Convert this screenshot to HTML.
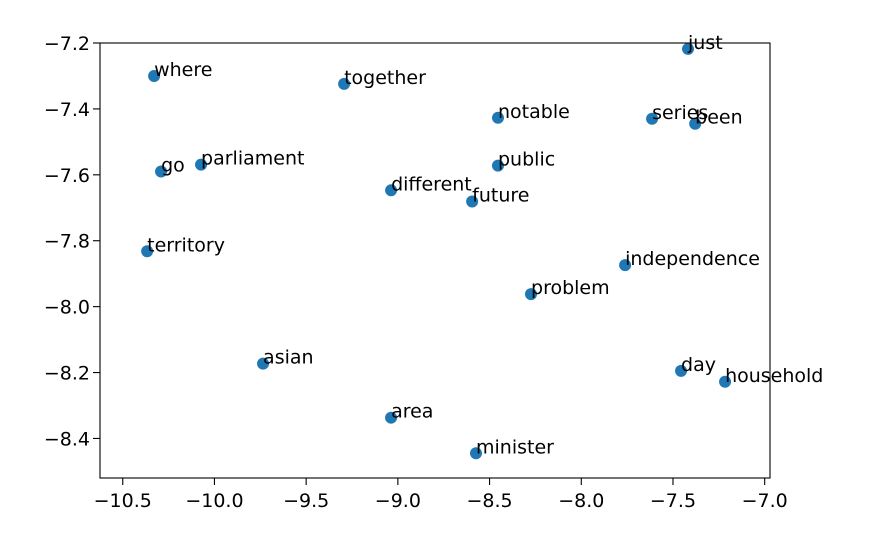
<!DOCTYPE html>
<html><head><meta charset="utf-8"><style>
body{margin:0;background:#fff}
svg{font-family:"DejaVu Sans","Liberation Sans",sans-serif}
</style></head><body>
<svg id="chart" width="870" height="530"></svg>
<script>
const words=["just","where","together","notable","series","been","go","parliament","public","different","future","territory","independence","problem","asian","day","household","area","minister"];
const xs=[-7.418,-10.329,-9.293,-8.454,-7.614,-7.379,-10.291,-10.073,-8.454,-9.037,-8.595,-10.367,-7.761,-8.274,-9.735,-7.456,-7.216,-9.037,-8.574];
const ys=[-7.218,-7.300,-7.324,-7.427,-7.430,-7.445,-7.590,-7.569,-7.572,-7.647,-7.681,-7.832,-7.874,-7.962,-8.173,-8.195,-8.228,-8.337,-8.445];
const xTicks=[-10.5,-10.0,-9.5,-9.0,-8.5,-8.0,-7.5,-7.0];
const yTicks=[-7.2,-7.4,-7.6,-7.8,-8.0,-8.2,-8.4];
const L=100,R=770,T=43,B=478;
const xMin=-10.624,xMax=-6.971,yMax=-7.2,yMin=-8.520;
const sx=v=>L+(v-xMin)/(xMax-xMin)*(R-L);
const sy=v=>T+(yMax-v)/(yMax-yMin)*(B-T);
const svg=document.getElementById('chart');
const NS='http://www.w3.org/2000/svg';
function mk(tag,attrs){const e=document.createElementNS(NS,tag);for(const k in attrs)e.setAttribute(k,attrs[k]);svg.appendChild(e);return e;}
const fmt=v=>(v<0?'\u2212':'')+Math.abs(v).toFixed(1);
xTicks.forEach(v=>{
  const x=sx(v);
  const t=mk('line',{x1:x,x2:x,y1:B,y2:B+7,stroke:'#000','stroke-width':1.1});
  
  
  const l=mk('text',{x:x,y:B+29,'text-anchor':'middle','font-size':19});
  l.textContent=fmt(v);
  
  
});
yTicks.forEach(v=>{
  const y=sy(v);
  const t=mk('line',{x1:L-7,x2:L,y1:y,y2:y,stroke:'#000','stroke-width':1.1});
  
  
  const l=mk('text',{x:L-10,y:y+7,'text-anchor':'end','font-size':19});
  l.textContent=fmt(v);
  
  
});
words.forEach((w,i)=>{
  const c=mk('circle',{cx:sx(xs[i]),cy:sy(ys[i]),r:6,fill:'#1f77b4'});
  
  
});
words.forEach((w,i)=>{
  const t=mk('text',{x:sx(xs[i]),y:sy(ys[i]),'font-size':19});
  t.textContent=w;
  
  
});
const f=mk('rect',{x:L,y:T,width:R-L,height:B-T,fill:'none',stroke:'#000','stroke-width':1.1});


</script>
</body></html>
